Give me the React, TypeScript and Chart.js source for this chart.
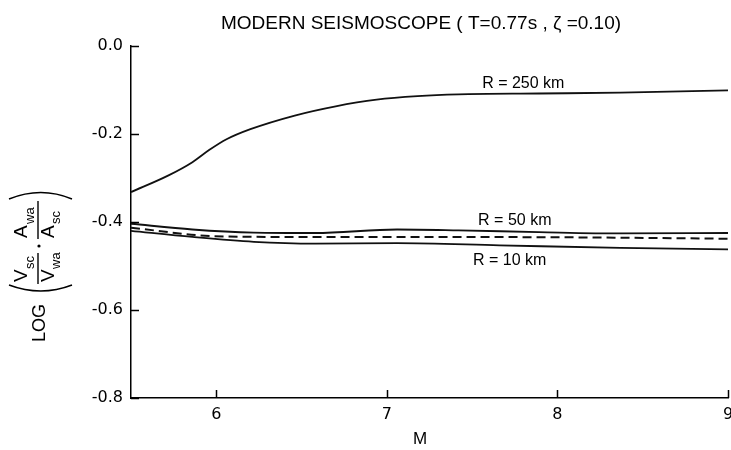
import { useEffect, useRef } from "react";
import { Chart, registerables } from "chart.js";

Chart.register(...registerables);

// Magnitude M (x) and LOG ratio (y)
const m250 = [5.5, 5.72, 5.86, 5.96, 6.06, 6.2, 6.46, 6.7, 6.94, 7.18, 7.42, 7.89, 8.37, 9.0];
const v250 = [-0.332, -0.294, -0.264, -0.236, -0.212, -0.189, -0.158, -0.137, -0.122, -0.114, -0.11, -0.108, -0.106, -0.101];

const m50 = [5.5, 5.86, 6.22, 6.58, 7.06, 7.42, 7.89, 8.37, 9.0];
const v50 = [-0.404, -0.417, -0.424, -0.425, -0.417, -0.419, -0.423, -0.426, -0.425];

const mDash = [5.5, 5.98, 6.46, 7.18, 8.13, 9.0];
const vDash = [-0.413, -0.432, -0.434, -0.434, -0.435, -0.438];

const m10 = [5.5, 5.86, 6.22, 6.58, 7.06, 7.66, 8.37, 9.0];
const v10 = [-0.42, -0.434, -0.445, -0.449, -0.448, -0.453, -0.459, -0.462];

const xTickValues = [6, 7, 8, 9];
const yTickValues = [0, -0.2, -0.4, -0.6, -0.8];

const curveLabels = ["R = 250 km", "R = 50 km", "R = 10 km"];
const curveLabelM = [7.8, 7.75, 7.72];
const curveLabelV = [-0.085, -0.396, -0.487];

const titleText = "MODERN SEISMOSCOPE ( T=0.77s , \u03B6 =0.10)";
const xTitle = "M";

const toPts = (xs: number[], ys: number[]) => xs.map((x, i) => ({ x, y: ys[i] }));

const FONT = '"DejaVu Sans", sans-serif';
const NARROW = '"Liberation Sans Narrow", "Liberation Sans", sans-serif';

const decorPlugin = {
  id: "decor",
  afterDraw(chart: any) {
    const { ctx, chartArea, scales } = chart;
    const x = scales.x;
    const y = scales.y;
    ctx.save();
    ctx.strokeStyle = "#000";
    ctx.fillStyle = "#000";
    ctx.lineWidth = 1.5;
    // inward ticks
    y.ticks.forEach((t: any) => {
      const py = Math.round(y.getPixelForValue(t.value)) + 0.5;
      ctx.beginPath();
      ctx.moveTo(chartArea.left, py);
      ctx.lineTo(chartArea.left + 8, py);
      ctx.stroke();
    });
    x.ticks.forEach((t: any) => {
      const px = Math.round(x.getPixelForValue(t.value)) + 0.5;
      ctx.beginPath();
      ctx.moveTo(px, chartArea.bottom);
      ctx.lineTo(px, chartArea.bottom - 8);
      ctx.stroke();
    });
    // x tick labels
    ctx.font = "16px " + FONT;
    ctx.textAlign = "center";
    ctx.textBaseline = "middle";
    x.ticks.forEach((t: any) => {
      ctx.fillText(String(t.value), x.getPixelForValue(t.value), chartArea.bottom + 17);
    });

    // curve labels
    ctx.font = "16px " + NARROW;
    curveLabels.forEach((txt, i) => {
      ctx.fillText(txt, x.getPixelForValue(curveLabelM[i]), y.getPixelForValue(curveLabelV[i]));
    });

    // title
    ctx.font = "19px " + NARROW;
    ctx.fillText(titleText, 421, 24);

    // x title
    ctx.font = "17px " + NARROW;
    ctx.fillText(xTitle, 420, 439);

    // y title: LOG( Vsc/Vwa . Awa/Asc )
    ctx.translate(39, 342);
    ctx.rotate(-Math.PI / 2);
    ctx.lineWidth = 1.4;
    ctx.textAlign = "left";
    ctx.textBaseline = "middle";
    ctx.font = "18px " + NARROW;
    ctx.fillText("LOG", 0, 1);
    // left paren
    ctx.beginPath();
    ctx.moveTo(57, -30);
    ctx.quadraticCurveTo(45, 2, 57, 33);
    ctx.stroke();
    ctx.textBaseline = "alphabetic";
    const big = "19px " + NARROW;
    const small = "13px " + NARROW;
    // Vsc / Vwa
    ctx.font = big;
    ctx.fillText("V", 60, -12);
    ctx.fillText("V", 60, 15);
    ctx.font = small;
    ctx.fillText("sc", 73, -5);
    ctx.fillText("wa", 73, 21);
    ctx.beginPath();
    ctx.moveTo(58, -1);
    ctx.lineTo(89, -1);
    ctx.stroke();
    // dot
    ctx.beginPath();
    ctx.arc(96, 0, 1.6, 0, Math.PI * 2);
    ctx.fill();
    // Awa / Asc
    ctx.font = big;
    ctx.fillText("A", 104, -12);
    ctx.fillText("A", 104, 15);
    ctx.font = small;
    ctx.fillText("wa", 118, -5);
    ctx.fillText("sc", 118, 21);
    ctx.beginPath();
    ctx.moveTo(103, -1);
    ctx.lineTo(141, -1);
    ctx.stroke();
    // right paren
    ctx.beginPath();
    ctx.moveTo(143, -30);
    ctx.quadraticCurveTo(156, 2, 143, 33);
    ctx.stroke();
    ctx.restore();
  },
};

export default function App() {
  const ref = useRef<HTMLCanvasElement | null>(null);
  useEffect(() => {
    document.body.style.margin = "0";
    if (!ref.current) return;
    const line = (data: any, dash: number[] = []) => ({
      data,
      borderColor: "#111",
      borderWidth: dash.length ? 2 : 1.8,
      borderDash: dash,
      pointRadius: 0,
      fill: false,
      cubicInterpolationMode: "monotone" as const,
    });
    const chart = new Chart(ref.current, {
      type: "line",
      data: {
        datasets: [
          line(toPts(m250, v250)),
          line(toPts(m50, v50)),
          line(toPts(mDash, vDash), [9, 5]),
          line(toPts(m10, v10)),
        ],
      },
      options: {
        responsive: false,
        animation: false,
        layout: { padding: { left: 0, right: 3, top: 46, bottom: 0 } },
        plugins: { legend: { display: false }, tooltip: { enabled: false }, title: { display: false } },
        scales: {
          x: {
            type: "linear",
            min: 5.5,
            max: 9,
            grid: { display: false },
            border: { display: true, color: "#000", width: 1.5 },
            afterBuildTicks: (s: any) => {
              s.ticks = xTickValues.map((v) => ({ value: v }));
            },
            afterFit: (s: any) => {
              s.height = 52;
            },
            ticks: { display: false },
          },
          y: {
            type: "linear",
            min: -0.8,
            max: 0,
            grid: { display: false },
            border: { display: true, color: "#000", width: 1.5 },
            afterBuildTicks: (s: any) => {
              s.ticks = yTickValues.map((v) => ({ value: v }));
            },
            afterFit: (s: any) => {
              s.width = 131;
            },
            ticks: {
              color: "#000",
              font: { size: 16, family: FONT },
              padding: 0,
              callback: (v: any) => Number(v).toFixed(1),
            },
          },
        },
      },
      plugins: [decorPlugin],
    });
    return () => chart.destroy();
  }, []);
  return (
    <div style={{ width: 731, height: 450 }}>
      <canvas ref={ref} width={731} height={450} />
    </div>
  );
}
